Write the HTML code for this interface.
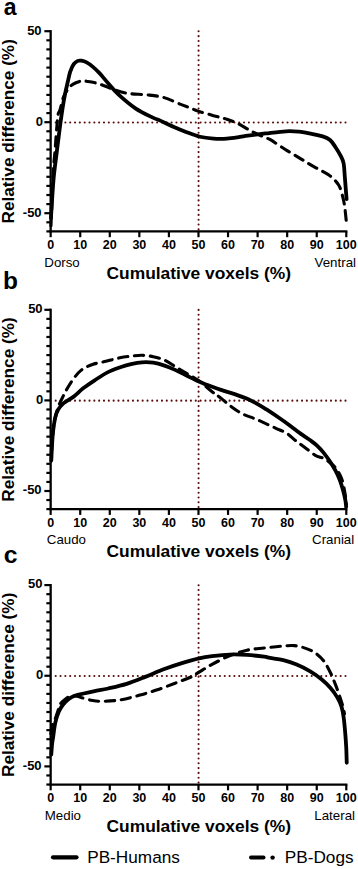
<!DOCTYPE html>
<html><head><meta charset="utf-8"><style>
html,body{margin:0;padding:0;background:#fff;width:358px;height:869px;overflow:hidden}
svg{display:block}
text{font-family:"Liberation Sans",sans-serif;fill:#000}
</style></head><body>
<svg width="358" height="869" viewBox="0 0 358 869">
<line x1="55.70" y1="122.45" x2="345.51" y2="122.45" stroke="#5a0c0c" stroke-width="2.1" stroke-linecap="round" stroke-dasharray="0 4.83"/>
<line x1="198.58" y1="31.30" x2="198.58" y2="229.41" stroke="#5a0c0c" stroke-width="2.1" stroke-linecap="round" stroke-dasharray="0 4.8317"/>
<path d="M50.95,225.94 C51.34,216.84 52.66,183.50 53.31,171.34 C53.96,159.18 54.11,162.03 54.85,152.96 C55.59,143.89 56.89,124.08 57.75,116.92 C58.60,109.76 58.99,113.34 59.96,110.01 C60.93,106.67 62.27,100.33 63.57,96.90 C64.87,93.47 66.24,91.53 67.77,89.44 C69.30,87.35 70.54,85.74 72.76,84.34 C74.99,82.95 78.58,81.55 81.10,81.07 C83.62,80.58 85.39,81.10 87.90,81.43 C90.41,81.77 93.37,82.31 96.18,83.07 C98.99,83.83 101.80,84.89 104.75,85.98 C107.71,87.07 110.08,88.38 113.92,89.62 C117.76,90.87 122.25,92.56 127.81,93.44 C133.38,94.32 141.27,94.20 147.33,94.90 C153.39,95.60 158.61,96.05 164.18,97.63 C169.75,99.21 176.45,102.67 180.74,104.36 C185.02,106.06 187.04,106.70 189.90,107.82 C192.76,108.94 193.94,109.79 197.88,111.10 C201.83,112.40 208.72,114.28 213.55,115.65 C218.38,117.01 222.72,117.92 226.86,119.29 C231.00,120.65 234.15,121.78 238.39,123.84 C242.63,125.90 247.75,129.36 252.28,131.66 C256.82,133.97 262.58,136.34 265.59,137.67 C268.59,139.00 267.16,137.79 270.32,139.67 C273.47,141.55 279.83,146.01 284.51,148.95 C289.19,151.90 294.41,154.90 298.40,157.33 C302.40,159.75 305.01,161.48 308.46,163.51 C311.91,165.55 315.50,167.46 319.10,169.52 C322.70,171.58 326.79,173.31 330.04,175.89 C333.29,178.47 336.49,181.50 338.61,184.99 C340.73,188.48 341.72,193.03 342.75,196.82 C343.79,200.61 344.23,203.65 344.82,207.74 C345.41,211.84 346.05,219.11 346.30,221.39" fill="none" stroke="#000" stroke-width="3.1" stroke-dasharray="9.3 6.7" stroke-linecap="round" stroke-linejoin="round"/>
<path d="M50.95,217.93 C51.36,211.62 52.51,190.91 53.46,180.08 C54.41,169.25 55.59,161.69 56.65,152.96 C57.71,144.22 58.80,135.33 59.82,127.66 C60.84,119.99 61.88,112.58 62.77,106.91 C63.66,101.24 64.30,97.81 65.14,93.63 C65.97,89.44 66.96,85.44 67.80,81.80 C68.64,78.16 69.18,74.73 70.16,71.79 C71.15,68.84 72.43,65.96 73.71,64.14 C74.99,62.32 76.62,61.44 77.85,60.87 C79.08,60.29 79.72,60.47 81.10,60.68 C82.48,60.90 84.16,61.11 86.13,62.14 C88.10,63.17 90.66,64.99 92.93,66.87 C95.19,68.75 97.26,70.79 99.73,73.42 C102.19,76.06 104.61,79.22 107.71,82.71 C110.81,86.19 113.67,90.05 118.35,94.35 C123.03,98.66 130.03,104.67 135.80,108.55 C141.56,112.43 148.95,115.68 152.94,117.65 C156.94,119.62 156.34,118.86 159.74,120.38 C163.14,121.90 168.86,124.78 173.34,126.75 C177.83,128.72 182.21,130.54 186.65,132.21 C191.08,133.88 195.47,135.70 199.95,136.76 C204.44,137.82 209.07,138.28 213.55,138.58 C218.04,138.88 222.47,138.85 226.86,138.58 C231.24,138.31 236.37,137.43 239.87,136.94 C243.36,136.46 243.56,136.24 247.85,135.67 C252.14,135.09 259.23,134.21 265.59,133.48 C271.94,132.76 280.42,131.60 285.99,131.30 C291.56,131.00 295.30,131.36 299.00,131.66 C302.69,131.97 304.22,132.33 308.16,133.12 C312.10,133.91 319.00,135.24 322.65,136.40 C326.29,137.55 327.92,138.28 330.04,140.04 C332.16,141.80 333.54,144.22 335.36,146.95 C337.18,149.68 339.60,153.66 340.98,156.42 C342.36,159.18 343.00,160.12 343.64,163.51 C344.28,166.91 344.39,171.61 344.82,176.80 C345.25,181.99 345.92,190.91 346.21,194.64 C346.51,198.37 346.53,198.43 346.60,199.19" fill="none" stroke="#000" stroke-width="3.8" stroke-linecap="round" stroke-linejoin="round"/>
<line x1="50.65" y1="30.10" x2="50.65" y2="232.50" stroke="#000" stroke-width="2.3"/>
<line x1="49.55" y1="231.40" x2="347.40" y2="231.40" stroke="#000" stroke-width="2.3"/>
<line x1="44.35" y1="31.20" x2="50.65" y2="31.20" stroke="#000" stroke-width="2.2"/>
<text x="41.60" y="34.50" text-anchor="end" font-size="13" font-weight="bold" font-family="Liberation Sans, sans-serif">50</text>
<line x1="46.35" y1="40.30" x2="50.65" y2="40.30" stroke="#000" stroke-width="2.2"/>
<line x1="46.35" y1="49.40" x2="50.65" y2="49.40" stroke="#000" stroke-width="2.2"/>
<line x1="46.35" y1="58.50" x2="50.65" y2="58.50" stroke="#000" stroke-width="2.2"/>
<line x1="46.35" y1="67.60" x2="50.65" y2="67.60" stroke="#000" stroke-width="2.2"/>
<line x1="46.35" y1="76.70" x2="50.65" y2="76.70" stroke="#000" stroke-width="2.2"/>
<line x1="46.35" y1="85.80" x2="50.65" y2="85.80" stroke="#000" stroke-width="2.2"/>
<line x1="46.35" y1="94.90" x2="50.65" y2="94.90" stroke="#000" stroke-width="2.2"/>
<line x1="46.35" y1="104.00" x2="50.65" y2="104.00" stroke="#000" stroke-width="2.2"/>
<line x1="46.35" y1="113.10" x2="50.65" y2="113.10" stroke="#000" stroke-width="2.2"/>
<line x1="44.35" y1="122.20" x2="50.65" y2="122.20" stroke="#000" stroke-width="2.2"/>
<text x="42.90" y="125.50" text-anchor="end" font-size="13" font-weight="bold" font-family="Liberation Sans, sans-serif">0</text>
<line x1="46.35" y1="131.30" x2="50.65" y2="131.30" stroke="#000" stroke-width="2.2"/>
<line x1="46.35" y1="140.40" x2="50.65" y2="140.40" stroke="#000" stroke-width="2.2"/>
<line x1="46.35" y1="149.50" x2="50.65" y2="149.50" stroke="#000" stroke-width="2.2"/>
<line x1="46.35" y1="158.60" x2="50.65" y2="158.60" stroke="#000" stroke-width="2.2"/>
<line x1="46.35" y1="167.70" x2="50.65" y2="167.70" stroke="#000" stroke-width="2.2"/>
<line x1="46.35" y1="176.80" x2="50.65" y2="176.80" stroke="#000" stroke-width="2.2"/>
<line x1="46.35" y1="185.90" x2="50.65" y2="185.90" stroke="#000" stroke-width="2.2"/>
<line x1="46.35" y1="195.00" x2="50.65" y2="195.00" stroke="#000" stroke-width="2.2"/>
<line x1="46.35" y1="204.10" x2="50.65" y2="204.10" stroke="#000" stroke-width="2.2"/>
<line x1="44.35" y1="213.20" x2="50.65" y2="213.20" stroke="#000" stroke-width="2.2"/>
<text x="41.60" y="216.50" text-anchor="end" font-size="13" font-weight="bold" font-family="Liberation Sans, sans-serif">-50</text>
<line x1="46.35" y1="222.30" x2="50.65" y2="222.30" stroke="#000" stroke-width="2.2"/>
<line x1="46.35" y1="231.40" x2="50.65" y2="231.40" stroke="#000" stroke-width="2.2"/>
<line x1="50.65" y1="231.40" x2="50.65" y2="237.20" stroke="#000" stroke-width="2.2"/>
<text x="50.65" y="249.00" text-anchor="middle" font-size="12.5" font-weight="bold" font-family="Liberation Sans, sans-serif">0</text>
<line x1="80.22" y1="231.40" x2="80.22" y2="237.20" stroke="#000" stroke-width="2.2"/>
<text x="80.22" y="249.00" text-anchor="middle" font-size="12.5" font-weight="bold" font-family="Liberation Sans, sans-serif">10</text>
<line x1="109.78" y1="231.40" x2="109.78" y2="237.20" stroke="#000" stroke-width="2.2"/>
<text x="109.78" y="249.00" text-anchor="middle" font-size="12.5" font-weight="bold" font-family="Liberation Sans, sans-serif">20</text>
<line x1="139.34" y1="231.40" x2="139.34" y2="237.20" stroke="#000" stroke-width="2.2"/>
<text x="139.34" y="249.00" text-anchor="middle" font-size="12.5" font-weight="bold" font-family="Liberation Sans, sans-serif">30</text>
<line x1="168.91" y1="231.40" x2="168.91" y2="237.20" stroke="#000" stroke-width="2.2"/>
<text x="168.91" y="249.00" text-anchor="middle" font-size="12.5" font-weight="bold" font-family="Liberation Sans, sans-serif">40</text>
<line x1="198.48" y1="231.40" x2="198.48" y2="237.20" stroke="#000" stroke-width="2.2"/>
<text x="198.48" y="249.00" text-anchor="middle" font-size="12.5" font-weight="bold" font-family="Liberation Sans, sans-serif">50</text>
<line x1="228.04" y1="231.40" x2="228.04" y2="237.20" stroke="#000" stroke-width="2.2"/>
<text x="228.04" y="249.00" text-anchor="middle" font-size="12.5" font-weight="bold" font-family="Liberation Sans, sans-serif">60</text>
<line x1="257.61" y1="231.40" x2="257.61" y2="237.20" stroke="#000" stroke-width="2.2"/>
<text x="257.61" y="249.00" text-anchor="middle" font-size="12.5" font-weight="bold" font-family="Liberation Sans, sans-serif">70</text>
<line x1="287.17" y1="231.40" x2="287.17" y2="237.20" stroke="#000" stroke-width="2.2"/>
<text x="287.17" y="249.00" text-anchor="middle" font-size="12.5" font-weight="bold" font-family="Liberation Sans, sans-serif">80</text>
<line x1="316.74" y1="231.40" x2="316.74" y2="237.20" stroke="#000" stroke-width="2.2"/>
<text x="316.74" y="249.00" text-anchor="middle" font-size="12.5" font-weight="bold" font-family="Liberation Sans, sans-serif">90</text>
<line x1="346.30" y1="231.40" x2="346.30" y2="237.20" stroke="#000" stroke-width="2.2"/>
<text x="346.30" y="249.00" text-anchor="middle" font-size="12.5" font-weight="bold" font-family="Liberation Sans, sans-serif">100</text>
<text x="44.3" y="266.70" font-size="13.3" font-family="Liberation Sans, sans-serif">Dorso</text>
<text x="356.0" y="266.70" text-anchor="end" font-size="13.3" font-family="Liberation Sans, sans-serif">Ventral</text>
<text x="198.8" y="278.80" text-anchor="middle" font-size="17.4" font-weight="bold" font-family="Liberation Sans, sans-serif">Cumulative voxels (%)</text>
<text transform="translate(14.4,131.30) rotate(-90)" text-anchor="middle" font-size="17.2" font-weight="bold" font-family="Liberation Sans, sans-serif">Relative difference (%)</text>
<text transform="translate(3.7,14.9) scale(0.93,1)" font-size="24.8" font-weight="bold" font-family="Liberation Sans, sans-serif">a</text>
<line x1="55.70" y1="400.65" x2="345.51" y2="400.65" stroke="#5a0c0c" stroke-width="2.1" stroke-linecap="round" stroke-dasharray="0 4.83"/>
<line x1="198.58" y1="309.90" x2="198.58" y2="507.13" stroke="#5a0c0c" stroke-width="2.1" stroke-linecap="round" stroke-dasharray="0 4.8102"/>
<path d="M51.54,451.14 C51.83,447.51 52.57,435.43 53.31,429.39 C54.05,423.35 55.08,418.82 55.97,414.90 C56.86,410.97 57.77,408.27 58.63,405.84 C59.49,403.40 59.97,402.73 61.15,400.31 C62.32,397.89 63.80,394.68 65.67,391.34 C67.54,388.00 69.78,383.82 72.38,380.29 C74.98,376.75 77.93,372.77 81.28,370.14 C84.63,367.51 88.38,366.00 92.48,364.52 C96.59,363.04 101.35,362.38 105.91,361.26 C110.46,360.14 115.64,358.66 119.83,357.82 C124.03,356.97 127.37,356.61 131.07,356.19 C134.76,355.76 138.31,355.19 142.01,355.28 C145.70,355.37 149.50,355.92 153.24,356.73 C156.99,357.55 160.73,358.48 164.48,360.17 C168.22,361.86 171.97,364.64 175.71,366.88 C179.45,369.11 183.20,371.35 186.94,373.58 C190.69,375.82 193.99,377.27 198.18,380.29 C202.37,383.31 208.48,388.86 212.07,391.70 C215.67,394.54 216.61,394.87 219.76,397.32 C222.92,399.77 227.25,403.63 231.00,406.38 C234.74,409.13 238.49,411.85 242.23,413.81 C245.98,415.77 249.72,416.62 253.47,418.16 C257.21,419.70 260.96,421.36 264.70,423.05 C268.45,424.74 272.24,426.58 275.94,428.30 C279.63,430.03 283.67,431.39 286.87,433.38 C290.08,435.37 292.10,437.88 295.15,440.26 C298.21,442.65 301.85,445.19 305.20,447.69 C308.56,450.20 312.20,453.52 315.26,455.30 C318.31,457.09 321.07,457.15 323.53,458.38 C326.00,459.62 327.97,461.07 330.04,462.73 C332.11,464.39 333.98,465.60 335.95,468.35 C337.92,471.10 340.34,474.93 341.87,479.22 C343.39,483.51 344.38,489.85 345.12,494.08 C345.86,498.31 346.10,502.84 346.30,504.59" fill="none" stroke="#000" stroke-width="3.1" stroke-dasharray="9.3 6.7" stroke-linecap="round" stroke-linejoin="round"/>
<path d="M51.24,460.74 C51.49,456.42 52.08,441.92 52.72,434.83 C53.36,427.73 54.15,422.36 55.06,418.16 C55.96,413.96 56.77,412.10 58.16,409.64 C59.54,407.18 61.46,405.13 63.36,403.41 C65.26,401.69 67.67,400.60 69.57,399.31 C71.47,398.03 72.46,397.56 74.78,395.69 C77.09,393.82 80.15,390.65 83.47,388.08 C86.79,385.51 90.61,382.94 94.70,380.29 C98.79,377.63 103.62,374.34 108.01,372.13 C112.39,369.93 117.17,368.39 121.01,367.06 C124.86,365.73 127.57,364.95 131.07,364.16 C134.57,363.37 138.31,362.59 142.01,362.35 C145.70,362.11 149.50,362.17 153.24,362.71 C156.99,363.25 160.73,364.37 164.48,365.61 C168.22,366.85 171.97,368.45 175.71,370.14 C179.45,371.83 183.20,373.91 186.94,375.76 C190.69,377.60 194.53,379.56 198.18,381.19 C201.83,382.82 205.57,384.27 208.82,385.54 C212.07,386.81 215.03,387.87 217.69,388.80 C220.35,389.74 221.73,390.19 224.79,391.16 C227.84,392.13 232.28,393.33 236.02,394.60 C239.77,395.87 243.51,397.11 247.26,398.77 C251.00,400.43 255.29,402.79 258.49,404.57 C261.69,406.35 262.88,407.13 266.47,409.46 C270.07,411.79 276.13,415.80 280.07,418.52 C284.02,421.24 286.78,423.29 290.13,425.77 C293.48,428.24 296.83,430.96 300.18,433.38 C303.53,435.79 307.47,438.27 310.23,440.26 C312.99,442.26 314.52,443.28 316.74,445.34 C318.95,447.39 321.29,449.84 323.53,452.59 C325.78,455.33 328.22,458.87 330.19,461.83 C332.16,464.79 333.76,467.32 335.36,470.34 C336.96,473.36 338.51,476.62 339.80,479.95 C341.08,483.27 342.11,486.86 343.05,490.28 C343.98,493.69 344.90,497.64 345.41,500.42 C345.93,503.20 346.03,505.86 346.15,506.95" fill="none" stroke="#000" stroke-width="3.8" stroke-linecap="round" stroke-linejoin="round"/>
<line x1="50.65" y1="308.70" x2="50.65" y2="510.22" stroke="#000" stroke-width="2.3"/>
<line x1="49.55" y1="509.12" x2="347.40" y2="509.12" stroke="#000" stroke-width="2.3"/>
<line x1="44.35" y1="309.80" x2="50.65" y2="309.80" stroke="#000" stroke-width="2.2"/>
<text x="42.60" y="313.10" text-anchor="end" font-size="13" font-weight="bold" font-family="Liberation Sans, sans-serif">50</text>
<line x1="46.35" y1="318.86" x2="50.65" y2="318.86" stroke="#000" stroke-width="2.2"/>
<line x1="46.35" y1="327.92" x2="50.65" y2="327.92" stroke="#000" stroke-width="2.2"/>
<line x1="46.35" y1="336.98" x2="50.65" y2="336.98" stroke="#000" stroke-width="2.2"/>
<line x1="46.35" y1="346.04" x2="50.65" y2="346.04" stroke="#000" stroke-width="2.2"/>
<line x1="46.35" y1="355.10" x2="50.65" y2="355.10" stroke="#000" stroke-width="2.2"/>
<line x1="46.35" y1="364.16" x2="50.65" y2="364.16" stroke="#000" stroke-width="2.2"/>
<line x1="46.35" y1="373.22" x2="50.65" y2="373.22" stroke="#000" stroke-width="2.2"/>
<line x1="46.35" y1="382.28" x2="50.65" y2="382.28" stroke="#000" stroke-width="2.2"/>
<line x1="46.35" y1="391.34" x2="50.65" y2="391.34" stroke="#000" stroke-width="2.2"/>
<line x1="44.35" y1="400.40" x2="50.65" y2="400.40" stroke="#000" stroke-width="2.2"/>
<text x="43.30" y="403.70" text-anchor="end" font-size="13" font-weight="bold" font-family="Liberation Sans, sans-serif">0</text>
<line x1="46.35" y1="409.46" x2="50.65" y2="409.46" stroke="#000" stroke-width="2.2"/>
<line x1="46.35" y1="418.52" x2="50.65" y2="418.52" stroke="#000" stroke-width="2.2"/>
<line x1="46.35" y1="427.58" x2="50.65" y2="427.58" stroke="#000" stroke-width="2.2"/>
<line x1="46.35" y1="436.64" x2="50.65" y2="436.64" stroke="#000" stroke-width="2.2"/>
<line x1="46.35" y1="445.70" x2="50.65" y2="445.70" stroke="#000" stroke-width="2.2"/>
<line x1="46.35" y1="454.76" x2="50.65" y2="454.76" stroke="#000" stroke-width="2.2"/>
<line x1="46.35" y1="463.82" x2="50.65" y2="463.82" stroke="#000" stroke-width="2.2"/>
<line x1="46.35" y1="472.88" x2="50.65" y2="472.88" stroke="#000" stroke-width="2.2"/>
<line x1="46.35" y1="481.94" x2="50.65" y2="481.94" stroke="#000" stroke-width="2.2"/>
<line x1="44.35" y1="491.00" x2="50.65" y2="491.00" stroke="#000" stroke-width="2.2"/>
<text x="41.60" y="494.30" text-anchor="end" font-size="13" font-weight="bold" font-family="Liberation Sans, sans-serif">-50</text>
<line x1="46.35" y1="500.06" x2="50.65" y2="500.06" stroke="#000" stroke-width="2.2"/>
<line x1="46.35" y1="509.12" x2="50.65" y2="509.12" stroke="#000" stroke-width="2.2"/>
<line x1="50.65" y1="509.12" x2="50.65" y2="514.92" stroke="#000" stroke-width="2.2"/>
<text x="50.65" y="526.72" text-anchor="middle" font-size="12.5" font-weight="bold" font-family="Liberation Sans, sans-serif">0</text>
<line x1="80.22" y1="509.12" x2="80.22" y2="514.92" stroke="#000" stroke-width="2.2"/>
<text x="80.22" y="526.72" text-anchor="middle" font-size="12.5" font-weight="bold" font-family="Liberation Sans, sans-serif">10</text>
<line x1="109.78" y1="509.12" x2="109.78" y2="514.92" stroke="#000" stroke-width="2.2"/>
<text x="109.78" y="526.72" text-anchor="middle" font-size="12.5" font-weight="bold" font-family="Liberation Sans, sans-serif">20</text>
<line x1="139.34" y1="509.12" x2="139.34" y2="514.92" stroke="#000" stroke-width="2.2"/>
<text x="139.34" y="526.72" text-anchor="middle" font-size="12.5" font-weight="bold" font-family="Liberation Sans, sans-serif">30</text>
<line x1="168.91" y1="509.12" x2="168.91" y2="514.92" stroke="#000" stroke-width="2.2"/>
<text x="168.91" y="526.72" text-anchor="middle" font-size="12.5" font-weight="bold" font-family="Liberation Sans, sans-serif">40</text>
<line x1="198.48" y1="509.12" x2="198.48" y2="514.92" stroke="#000" stroke-width="2.2"/>
<text x="198.48" y="526.72" text-anchor="middle" font-size="12.5" font-weight="bold" font-family="Liberation Sans, sans-serif">50</text>
<line x1="228.04" y1="509.12" x2="228.04" y2="514.92" stroke="#000" stroke-width="2.2"/>
<text x="228.04" y="526.72" text-anchor="middle" font-size="12.5" font-weight="bold" font-family="Liberation Sans, sans-serif">60</text>
<line x1="257.61" y1="509.12" x2="257.61" y2="514.92" stroke="#000" stroke-width="2.2"/>
<text x="257.61" y="526.72" text-anchor="middle" font-size="12.5" font-weight="bold" font-family="Liberation Sans, sans-serif">70</text>
<line x1="287.17" y1="509.12" x2="287.17" y2="514.92" stroke="#000" stroke-width="2.2"/>
<text x="287.17" y="526.72" text-anchor="middle" font-size="12.5" font-weight="bold" font-family="Liberation Sans, sans-serif">80</text>
<line x1="316.74" y1="509.12" x2="316.74" y2="514.92" stroke="#000" stroke-width="2.2"/>
<text x="316.74" y="526.72" text-anchor="middle" font-size="12.5" font-weight="bold" font-family="Liberation Sans, sans-serif">90</text>
<line x1="346.30" y1="509.12" x2="346.30" y2="514.92" stroke="#000" stroke-width="2.2"/>
<text x="346.30" y="526.72" text-anchor="middle" font-size="12.5" font-weight="bold" font-family="Liberation Sans, sans-serif">100</text>
<text x="46.8" y="544.42" font-size="13.3" font-family="Liberation Sans, sans-serif">Caudo</text>
<text x="354.2" y="544.42" text-anchor="end" font-size="13.3" font-family="Liberation Sans, sans-serif">Cranial</text>
<text x="198.8" y="556.52" text-anchor="middle" font-size="17.4" font-weight="bold" font-family="Liberation Sans, sans-serif">Cumulative voxels (%)</text>
<text transform="translate(14.4,409.46) rotate(-90)" text-anchor="middle" font-size="17.2" font-weight="bold" font-family="Liberation Sans, sans-serif">Relative difference (%)</text>
<text transform="translate(2.9,288.7) scale(1.0,1)" font-size="24.5" font-weight="bold" font-family="Liberation Sans, sans-serif">b</text>
<line x1="55.70" y1="676.00" x2="345.51" y2="676.00" stroke="#5a0c0c" stroke-width="2.1" stroke-linecap="round" stroke-dasharray="0 4.83"/>
<line x1="198.58" y1="585.20" x2="198.58" y2="782.54" stroke="#5a0c0c" stroke-width="2.1" stroke-linecap="round" stroke-dasharray="0 4.8129"/>
<path d="M50.95,733.77 C51.19,732.26 51.70,727.21 52.42,724.70 C53.14,722.19 53.98,722.04 55.26,718.72 C56.54,715.39 58.83,707.69 60.11,704.76 C61.39,701.83 61.32,702.55 62.95,701.13 C64.58,699.71 67.73,697.08 69.87,696.24 C72.01,695.39 73.81,695.81 75.78,696.06 C77.75,696.30 78.93,696.95 81.69,697.69 C84.45,698.43 88.94,699.89 92.34,700.50 C95.74,701.10 97.41,701.42 102.09,701.31 C106.77,701.21 114.26,700.86 120.42,699.86 C126.58,698.87 132.89,697.01 139.05,695.33 C145.21,693.65 151.27,691.86 157.38,689.80 C163.49,687.75 170.04,685.16 175.71,683.00 C181.38,680.84 187.49,678.65 191.38,676.84 C195.27,675.02 195.62,674.21 199.07,672.12 C202.52,670.04 207.00,667.05 212.07,664.33 C217.15,661.61 223.70,658.16 229.52,655.81 C235.33,653.45 241.20,651.49 246.96,650.19 C252.73,648.89 258.34,648.68 264.11,648.01 C269.87,647.35 276.48,646.59 281.55,646.20 C286.63,645.81 290.52,645.29 294.56,645.65 C298.60,646.02 302.45,647.23 305.80,648.37 C309.15,649.52 311.71,650.49 314.67,652.54 C317.62,654.60 320.92,657.38 323.53,660.70 C326.15,664.03 328.27,668.29 330.33,672.49 C332.40,676.69 334.28,681.58 335.95,685.90 C337.63,690.22 339.25,695.06 340.39,698.41 C341.52,701.77 342.06,703.46 342.75,706.03 C343.44,708.60 344.23,712.52 344.53,713.82" fill="none" stroke="#000" stroke-width="3.1" stroke-dasharray="9.3 6.7" stroke-linecap="round" stroke-linejoin="round"/>
<path d="M51.24,754.62 C51.39,752.83 51.81,746.88 52.13,743.92 C52.45,740.96 52.64,740.37 53.16,736.85 C53.69,733.33 54.33,727.00 55.26,722.80 C56.19,718.60 57.47,714.65 58.75,711.65 C60.03,708.64 61.33,706.84 62.95,704.76 C64.57,702.67 66.39,700.68 68.48,699.14 C70.57,697.60 72.94,696.45 75.48,695.51 C78.03,694.57 80.56,694.24 83.76,693.52 C86.97,692.79 90.61,692.00 94.70,691.16 C98.79,690.32 102.98,689.70 108.30,688.50 C113.62,687.29 120.47,685.84 126.63,683.91 C132.79,681.97 139.10,679.34 145.26,676.89 C151.42,674.44 157.48,671.53 163.59,669.22 C169.70,666.92 176.01,664.87 181.92,663.06 C187.83,661.25 194.04,659.49 199.07,658.35 C204.09,657.20 207.00,656.80 212.07,656.17 C217.15,655.54 223.70,654.75 229.52,654.54 C235.33,654.33 241.20,654.54 246.96,654.90 C252.73,655.26 260.27,656.20 264.11,656.71 C267.95,657.23 266.82,657.41 270.02,657.98 C273.23,658.56 278.89,659.07 283.33,660.16 C287.76,661.25 292.15,662.65 296.63,664.51 C301.11,666.37 306.09,668.86 310.23,671.31 C314.37,673.76 318.11,676.46 321.47,679.19 C324.82,681.93 327.67,684.65 330.33,687.72 C333.00,690.78 335.56,694.39 337.43,697.60 C339.30,700.80 340.53,703.66 341.57,706.93 C342.60,710.21 343.05,713.13 343.64,717.27 C344.23,721.41 344.69,726.79 345.12,731.77 C345.55,736.76 345.94,742.02 346.21,747.18 C346.48,752.35 346.65,760.18 346.74,762.77" fill="none" stroke="#000" stroke-width="3.8" stroke-linecap="round" stroke-linejoin="round"/>
<line x1="50.65" y1="584.00" x2="50.65" y2="785.63" stroke="#000" stroke-width="2.3"/>
<line x1="49.55" y1="784.53" x2="347.40" y2="784.53" stroke="#000" stroke-width="2.3"/>
<line x1="44.35" y1="585.10" x2="50.65" y2="585.10" stroke="#000" stroke-width="2.2"/>
<text x="42.50" y="588.40" text-anchor="end" font-size="13" font-weight="bold" font-family="Liberation Sans, sans-serif">50</text>
<line x1="46.35" y1="594.16" x2="50.65" y2="594.16" stroke="#000" stroke-width="2.2"/>
<line x1="46.35" y1="603.23" x2="50.65" y2="603.23" stroke="#000" stroke-width="2.2"/>
<line x1="46.35" y1="612.30" x2="50.65" y2="612.30" stroke="#000" stroke-width="2.2"/>
<line x1="46.35" y1="621.36" x2="50.65" y2="621.36" stroke="#000" stroke-width="2.2"/>
<line x1="46.35" y1="630.42" x2="50.65" y2="630.42" stroke="#000" stroke-width="2.2"/>
<line x1="46.35" y1="639.49" x2="50.65" y2="639.49" stroke="#000" stroke-width="2.2"/>
<line x1="46.35" y1="648.56" x2="50.65" y2="648.56" stroke="#000" stroke-width="2.2"/>
<line x1="46.35" y1="657.62" x2="50.65" y2="657.62" stroke="#000" stroke-width="2.2"/>
<line x1="46.35" y1="666.68" x2="50.65" y2="666.68" stroke="#000" stroke-width="2.2"/>
<line x1="44.35" y1="675.75" x2="50.65" y2="675.75" stroke="#000" stroke-width="2.2"/>
<text x="43.30" y="679.05" text-anchor="end" font-size="13" font-weight="bold" font-family="Liberation Sans, sans-serif">0</text>
<line x1="46.35" y1="684.82" x2="50.65" y2="684.82" stroke="#000" stroke-width="2.2"/>
<line x1="46.35" y1="693.88" x2="50.65" y2="693.88" stroke="#000" stroke-width="2.2"/>
<line x1="46.35" y1="702.94" x2="50.65" y2="702.94" stroke="#000" stroke-width="2.2"/>
<line x1="46.35" y1="712.01" x2="50.65" y2="712.01" stroke="#000" stroke-width="2.2"/>
<line x1="46.35" y1="721.08" x2="50.65" y2="721.08" stroke="#000" stroke-width="2.2"/>
<line x1="46.35" y1="730.14" x2="50.65" y2="730.14" stroke="#000" stroke-width="2.2"/>
<line x1="46.35" y1="739.20" x2="50.65" y2="739.20" stroke="#000" stroke-width="2.2"/>
<line x1="46.35" y1="748.27" x2="50.65" y2="748.27" stroke="#000" stroke-width="2.2"/>
<line x1="46.35" y1="757.34" x2="50.65" y2="757.34" stroke="#000" stroke-width="2.2"/>
<line x1="44.35" y1="766.40" x2="50.65" y2="766.40" stroke="#000" stroke-width="2.2"/>
<text x="41.60" y="769.70" text-anchor="end" font-size="13" font-weight="bold" font-family="Liberation Sans, sans-serif">-50</text>
<line x1="46.35" y1="775.46" x2="50.65" y2="775.46" stroke="#000" stroke-width="2.2"/>
<line x1="46.35" y1="784.53" x2="50.65" y2="784.53" stroke="#000" stroke-width="2.2"/>
<line x1="50.65" y1="784.53" x2="50.65" y2="790.33" stroke="#000" stroke-width="2.2"/>
<text x="50.65" y="802.13" text-anchor="middle" font-size="12.5" font-weight="bold" font-family="Liberation Sans, sans-serif">0</text>
<line x1="80.22" y1="784.53" x2="80.22" y2="790.33" stroke="#000" stroke-width="2.2"/>
<text x="80.22" y="802.13" text-anchor="middle" font-size="12.5" font-weight="bold" font-family="Liberation Sans, sans-serif">10</text>
<line x1="109.78" y1="784.53" x2="109.78" y2="790.33" stroke="#000" stroke-width="2.2"/>
<text x="109.78" y="802.13" text-anchor="middle" font-size="12.5" font-weight="bold" font-family="Liberation Sans, sans-serif">20</text>
<line x1="139.34" y1="784.53" x2="139.34" y2="790.33" stroke="#000" stroke-width="2.2"/>
<text x="139.34" y="802.13" text-anchor="middle" font-size="12.5" font-weight="bold" font-family="Liberation Sans, sans-serif">30</text>
<line x1="168.91" y1="784.53" x2="168.91" y2="790.33" stroke="#000" stroke-width="2.2"/>
<text x="168.91" y="802.13" text-anchor="middle" font-size="12.5" font-weight="bold" font-family="Liberation Sans, sans-serif">40</text>
<line x1="198.48" y1="784.53" x2="198.48" y2="790.33" stroke="#000" stroke-width="2.2"/>
<text x="198.48" y="802.13" text-anchor="middle" font-size="12.5" font-weight="bold" font-family="Liberation Sans, sans-serif">50</text>
<line x1="228.04" y1="784.53" x2="228.04" y2="790.33" stroke="#000" stroke-width="2.2"/>
<text x="228.04" y="802.13" text-anchor="middle" font-size="12.5" font-weight="bold" font-family="Liberation Sans, sans-serif">60</text>
<line x1="257.61" y1="784.53" x2="257.61" y2="790.33" stroke="#000" stroke-width="2.2"/>
<text x="257.61" y="802.13" text-anchor="middle" font-size="12.5" font-weight="bold" font-family="Liberation Sans, sans-serif">70</text>
<line x1="287.17" y1="784.53" x2="287.17" y2="790.33" stroke="#000" stroke-width="2.2"/>
<text x="287.17" y="802.13" text-anchor="middle" font-size="12.5" font-weight="bold" font-family="Liberation Sans, sans-serif">80</text>
<line x1="316.74" y1="784.53" x2="316.74" y2="790.33" stroke="#000" stroke-width="2.2"/>
<text x="316.74" y="802.13" text-anchor="middle" font-size="12.5" font-weight="bold" font-family="Liberation Sans, sans-serif">90</text>
<line x1="346.30" y1="784.53" x2="346.30" y2="790.33" stroke="#000" stroke-width="2.2"/>
<text x="346.30" y="802.13" text-anchor="middle" font-size="12.5" font-weight="bold" font-family="Liberation Sans, sans-serif">100</text>
<text x="44.8" y="819.83" font-size="13.3" font-family="Liberation Sans, sans-serif">Medio</text>
<text x="355.0" y="819.83" text-anchor="end" font-size="13.3" font-family="Liberation Sans, sans-serif">Lateral</text>
<text x="198.8" y="831.93" text-anchor="middle" font-size="17.4" font-weight="bold" font-family="Liberation Sans, sans-serif">Cumulative voxels (%)</text>
<text transform="translate(14.4,684.82) rotate(-90)" text-anchor="middle" font-size="17.2" font-weight="bold" font-family="Liberation Sans, sans-serif">Relative difference (%)</text>
<text transform="translate(3.8,563.3) scale(1.0,1)" font-size="24.8" font-weight="bold" font-family="Liberation Sans, sans-serif">c</text>
<line x1="53" y1="857.3" x2="76.5" y2="857.3" stroke="#000" stroke-width="4.2" stroke-linecap="round"/>
<text x="87.2" y="863.3" font-size="17.2" font-family="Liberation Sans, sans-serif">PB-Humans</text>
<line x1="251" y1="857.6" x2="263.5" y2="857.6" stroke="#000" stroke-width="4" stroke-linecap="round"/>
<circle cx="272.6" cy="857.6" r="2.2" fill="#000"/>
<text x="284.8" y="863.3" font-size="17.2" font-family="Liberation Sans, sans-serif">PB-Dogs</text>
</svg>
</body></html>
